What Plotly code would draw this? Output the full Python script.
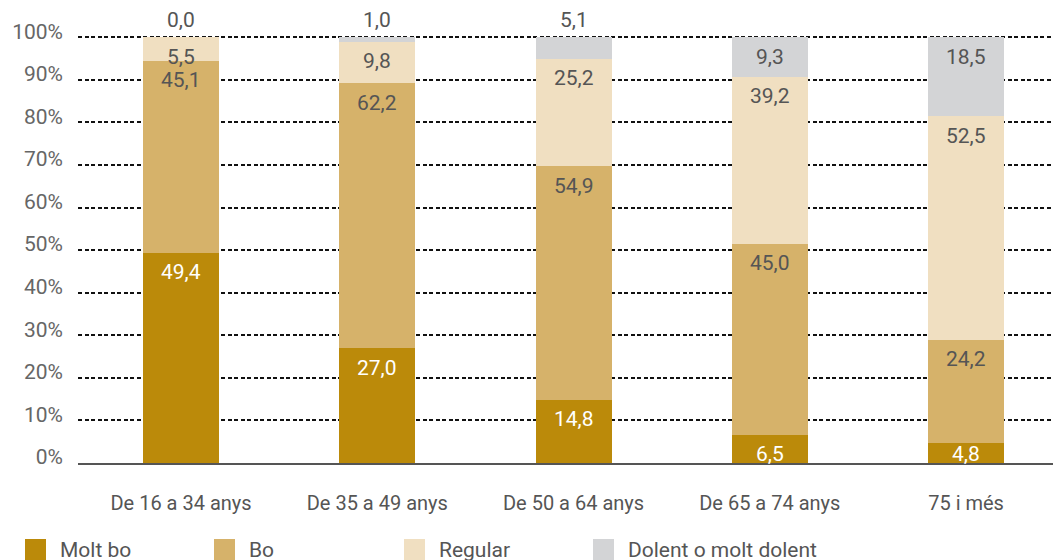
import plotly.graph_objects as go

# Self-rated health by age group (percent of each group)
categories = ["De 16 a 34 anys", "De 35 a 49 anys", "De 50 a 64 anys",
              "De 65 a 74 anys", "75 i més"]
molt_bo = [49.4, 27.0, 14.8, 6.5, 4.8]
bo = [45.1, 62.2, 54.9, 45.0, 24.2]
regular = [5.5, 9.8, 25.2, 39.2, 52.5]
dolent = [0.0, 1.0, 5.1, 9.3, 18.5]
series_names = ["Molt bo", "Bo", "Regular", "Dolent o molt dolent"]
y_tick_values = [0, 10, 20, 30, 40, 50, 60, 70, 80, 90, 100]

colors = ["#BB8A0A", "#D6B26A", "#F0DFC1", "#D3D4D6"]
label_colors = ["#FFFFFF", "#555555", "#555555", "#555555"]
FONT = "Roboto"

W, H = 1053, 560
Y_MAX = 100.3
M_L, M_R, M_B = 78, 0, 97
plot_h_100 = H - M_B - 37            # pixel height of 0..100
M_T = round(37 - (Y_MAX - 100) * plot_h_100 / 100)
plot_w = W - M_L - M_R
plot_h = H - M_T - M_B

fig = go.Figure()
all_series = [molt_bo, bo, regular, dolent]
for name, vals, col in zip(series_names, all_series, colors):
    fig.add_trace(go.Bar(
        x=categories, y=vals, name=name, marker_color=col,
        marker_line_width=0, width=0.387, showlegend=False,
        hoverinfo="x+y+name",
    ))


def fmt(v):
    return f"{v:.1f}".replace(".", ",")


# value labels near the top of each segment
px_per_unit = plot_h / Y_MAX
annotations = []
cum = [0.0] * len(categories)
for s, vals in enumerate(all_series):
    for i, v in enumerate(vals):
        top = cum[i] + v
        cum[i] = top
        if s == len(all_series) - 1 and v < 5.3:
            # too small to hold its label: put it above the column
            annotations.append(dict(
                x=categories[i], y=top, xref="x", yref="y", text=fmt(v),
                showarrow=False, yanchor="middle", yshift=17,
                font=dict(family=FONT, size=21, color=label_colors[s])))
        else:
            y_lab = max(top - 19.5 / px_per_unit, 9.5 / px_per_unit)
            annotations.append(dict(
                x=categories[i], y=y_lab, xref="x", yref="y", text=fmt(v),
                showarrow=False, yanchor="middle",
                font=dict(family=FONT, size=21, color=label_colors[s])))

# legend drawn below the axis
shapes = []
legend_left = [25, 214, 404, 593]
for name, col, lx in zip(series_names, colors, legend_left):
    x0 = (lx - M_L) / plot_w
    x1 = (lx + 21 - M_L) / plot_w
    y_top = (H - M_B - 539) / plot_h
    y_bot = (H - M_B - 566) / plot_h
    shapes.append(dict(type="rect", xref="paper", yref="paper",
                       x0=x0, x1=x1, y0=y_bot, y1=y_top,
                       fillcolor=col, line_width=0, layer="above"))
    annotations.append(dict(
        x=(lx + 33 - M_L) / plot_w, y=(H - M_B - 550) / plot_h,
        xref="paper", yref="paper", text=name, showarrow=False,
        xanchor="left", yanchor="middle",
        font=dict(family=FONT, size=21, color="#555555")))

fig.update_layout(
    width=W, height=H,
    margin=dict(l=M_L, r=M_R, t=M_T, b=M_B),
    barmode="stack",
    plot_bgcolor="white", paper_bgcolor="white",
    font=dict(family=FONT, color="#555555"),
    annotations=annotations, shapes=shapes,
    showlegend=False,
)
fig.update_xaxes(
    range=[-0.525, 4.443],
    showline=True, linecolor="#555555", linewidth=2,
    showgrid=False, ticks="", ticklabelstandoff=21,
    tickfont=dict(family=FONT, size=20, color="#555555"),
)
fig.update_yaxes(
    range=[0, Y_MAX], tickvals=y_tick_values,
    ticktext=[f"{v}%" for v in y_tick_values],
    showgrid=True, gridcolor="#111111", gridwidth=1.5, griddash="4px,2.5px",
    zeroline=False, showline=False, ticks="",
    ticklabelstandoff=14, ticklabelshift=-6,
    tickfont=dict(family=FONT, size=21, color="#666666"),
)

fig.write_html("out.html")
